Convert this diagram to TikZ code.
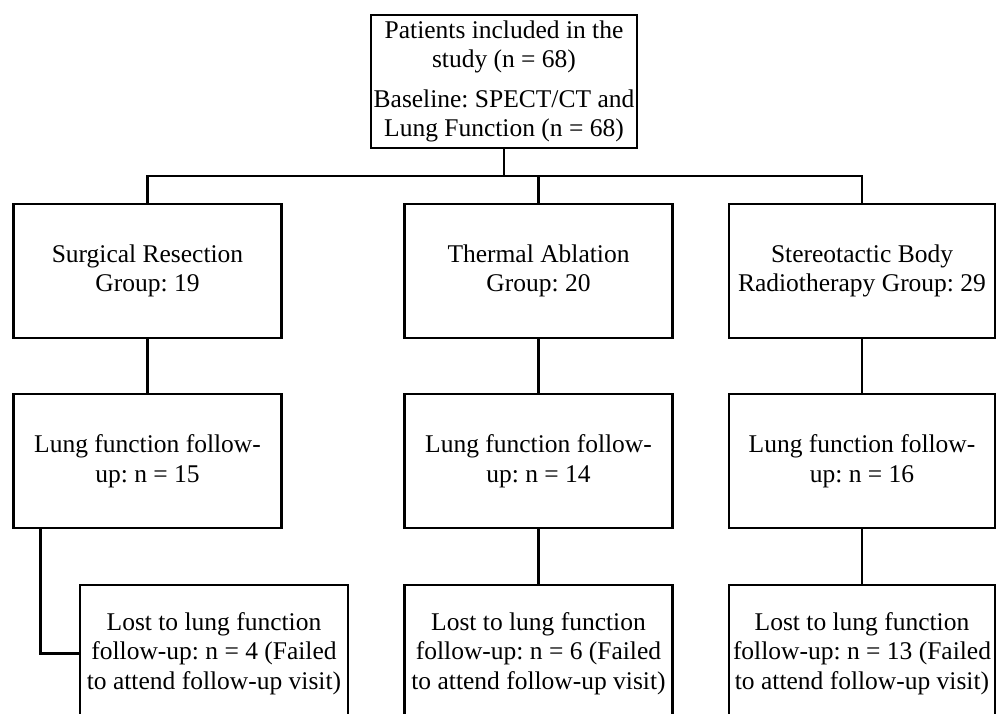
\documentclass[tikz,border=0pt]{standalone}
\usepackage{fontspec}
\setmainfont{Liberation Serif}
\frenchspacing
\begin{document}
\begin{tikzpicture}[x=1pt,y=-1pt,line width=2.2pt]

        \useasboundingbox (0,0) rectangle (996,713);

        \begin{scope}[every node/.style={draw, rectangle, align=center, inner sep=0pt,
            minimum width=268pt, minimum height=134pt,
            font=\fontsize{25.5}{29.5}\selectfont}]
          \node (top)   at (504,81.5)  [minimum width=266pt, minimum height=133pt]
            {Patients included in the\\study (n = 68)\\[10pt]Baseline: SPECT/CT and\\Lung Function (n = 68)};
          \node (sr)    at (147.5,271) {Surgical Resection\\Group: 19};
          \node (ta)    at (538.5,271) {Thermal Ablation\\Group: 20};
          \node (sbrt)  at (862,271)   [minimum width=266pt] {Stereotactic Body\\Radiotherapy Group: 29};
          \node (lf1)   at (147.5,461) {Lung function follow-\\up: n = 15};
          \node (lf2)   at (538.5,461) {Lung function follow-\\up: n = 14};
          \node (lf3)   at (862,461)   [minimum width=266pt] {Lung function follow-\\up: n = 16};
          \node (lost1) at (214,653.5) [minimum height=137pt] {Lost to lung function\\follow-up: n = 4 (Failed\\to attend follow-up visit)};
          \node (lost2) at (538.5,653.5) [minimum height=137pt] {Lost to lung function\\follow-up: n = 6 (Failed\\to attend follow-up visit)};
          \node (lost3) at (862,653.5) [minimum width=266pt, minimum height=137pt] {Lost to lung function\\follow-up: n = 13 (Failed\\to attend follow-up visit)};
        \end{scope}

        \coordinate (split) at (504,176);

        \draw (top) -- (split);
        \draw (sr.north) |- (split) -| (sbrt.north);
        \draw (split -| ta.north) -- (ta.north);

        \path (sr)  edge[draw] (lf1);
        \path (ta)  edge[draw] (lf2);
        \path (sbrt) edge[draw] (lf3);

        \draw ([xshift=28pt]lf1.south west) |- (lost1.west);
        \path (lf2) edge[draw] (lost2);
        \path (lf3) edge[draw] (lost3);

      \end{tikzpicture}
\end{document}
